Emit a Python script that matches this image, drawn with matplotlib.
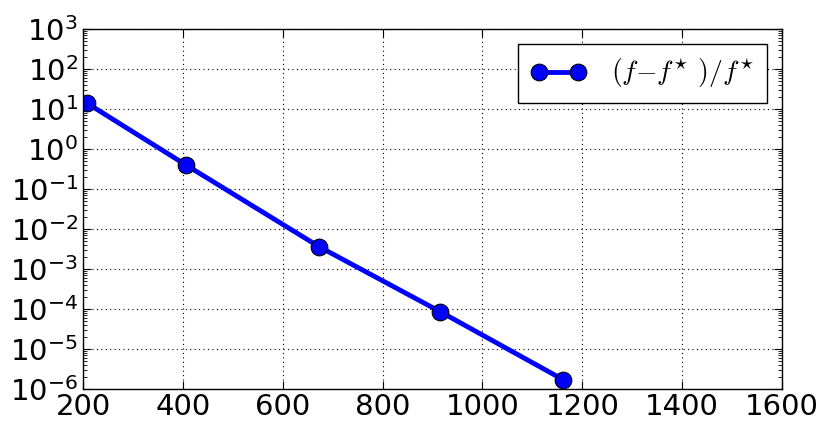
import matplotlib
matplotlib.use("Agg")
import matplotlib.pyplot as plt
from matplotlib.ticker import LogLocator

x_vals = [208, 406, 673, 916, 1162]
y_vals = [14.0, 0.40, 0.0036, 8.5e-5, 1.7e-6]
x_ticks = [200, 400, 600, 800, 1000, 1200, 1400, 1600]
label = r"$(f{-}f^{\star}\ )/f^{\star}$"

plt.rcParams['mathtext.fontset'] = 'cm'
fig = plt.figure(figsize=(8.31, 4.32), dpi=100)
ax = fig.add_axes([83/831, 1-389/432, (782-83)/831, (389-29)/432])
ax.plot(x_vals, y_vals, '-o', color='blue', lw=3.5, markersize=12,
        markeredgecolor='black', markeredgewidth=0.8, label=label)
ax.set_yscale('log')
ax.set_xlim(200, 1600)
ax.set_ylim(1e-6, 1e3)
ax.set_xticks(x_ticks)
ax.set_yticks([10.0**k for k in range(-6, 4)])
ax.yaxis.set_minor_locator(LogLocator(base=10, subs=range(2, 10), numticks=20))
ax.tick_params(which='both', direction='in', top=True, right=True, labelsize=21)
ax.tick_params(which='major', length=6)
ax.tick_params(which='minor', length=3)
ax.tick_params(axis='x', pad=3)
ax.grid(True, which='major', color='black', linestyle=(0, (1, 3)), linewidth=0.8)
for s in ax.spines.values():
    s.set_linewidth(1)
leg = ax.legend(loc='upper right', numpoints=2, fontsize=20, fancybox=False,
                framealpha=1, edgecolor='black', borderaxespad=0.55,
                borderpad=0.45, handletextpad=0.9)
leg.get_frame().set_linewidth(1)
fig.savefig("out.png", dpi=100, facecolor='white')
